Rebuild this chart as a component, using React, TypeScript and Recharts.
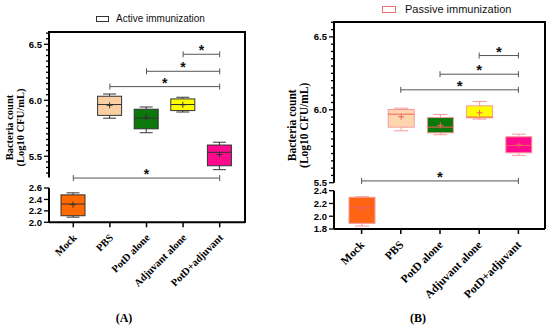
import React from 'react';
import { ComposedChart, Bar, XAxis, YAxis, ReferenceLine } from 'recharts';

const categories = ['Mock', 'PBS', 'PotD alone', 'Adjuvant alone', 'PotD+adjuvant'];

// Panel A (Active immunization)
const fillsA = ['#FF6A00', '#FAD0A2', '#0B780B', '#FFFF00', '#FF0A8C'];
const minA = [2.09, 5.84, 5.71, 5.895, 5.38];
const q1A = [2.115, 5.865, 5.745, 5.908, 5.415];
const medA = [2.32, 5.962, 5.84, 5.962, 5.535];
const q3A = [2.48, 6.036, 5.92, 6.012, 5.6];
const maxA = [2.515, 6.056, 5.94, 6.027, 5.625];
const meanA = [2.31, 5.955, 5.85, 5.96, 5.515];
const bracketFromA = ['Adjuvant alone', 'PotD alone', 'PBS', 'Mock'];
const bracketToA = ['PotD+adjuvant', 'PotD+adjuvant', 'PotD+adjuvant', 'PotD+adjuvant'];
const bracketYA = [6.411, 6.259, 6.122, 5.305];
const upperMajorA = [5.5, 6.0, 6.5];
const lowerTicksA = [2.0, 2.2, 2.4, 2.6];

// Panel B (Passive immunization)
const fillsB = ['#FF6414', '#FDD6AE', '#0B780B', '#FFFF00', '#FF0A8C'];
const minB = [1.847, 5.856, 5.829, 5.936, 5.687];
const q1B = [1.889, 5.881, 5.842, 5.945, 5.705];
const medB = [2.134, 5.97, 5.881, 5.95, 5.755];
const q3B = [2.297, 6.002, 5.947, 6.027, 5.815];
const maxB = [2.306, 6.011, 5.968, 6.057, 5.833];
const meanB = [2.12, 5.952, 5.893, 5.979, 5.76];
const bracketFromB = ['Adjuvant alone', 'PotD alone', 'PBS', 'Mock'];
const bracketToB = ['PotD+adjuvant', 'PotD+adjuvant', 'PotD+adjuvant', 'PotD+adjuvant'];
const bracketYB = [6.372, 6.244, 6.137, 5.512];
const upperMajorB = [5.5, 6.0, 6.5];
const lowerTicksB = [1.8, 2.0, 2.2, 2.4];

const SERIF = "'Liberation Serif', 'Times New Roman', serif";
const SANS = "'Liberation Sans', Arial, sans-serif";

function minorTicks(from: number, to: number) {
  const out: number[] = [];
  for (let v = Math.round(from * 100); v <= Math.round(to * 100) + 0.1; v += 5) out.push(v / 100);
  return out;
}

function buildRows(fills: string[], mn: number[], q1: number[], md: number[], q3: number[], mx: number[], mean: number[], useIdx: (i: number) => boolean) {
  return categories.map((name, i) => useIdx(i)
    ? { name, fill: fills[i], lo: mn[i], q1: q1[i], med: md[i], q3: q3[i], hi: mx[i], mean: mean[i] }
    : { name, fill: fills[i], lo: null, q1: null, med: null, q3: null, hi: null, mean: null });
}

const makeBox = (stroke: string, mark: string) => (props: any) => {
  const { x, y, width, height, payload } = props;
  if (!payload || payload.lo == null || !isFinite(y) || !isFinite(height)) return <g />;
  const top = Math.min(y, y + height);
  const bot = Math.max(y, y + height);
  const span = payload.hi - payload.lo;
  const py = (v: number) => bot - ((v - payload.lo) / span) * (bot - top);
  const cx = x + width / 2;
  const cap = width * 0.27;
  const m = py(payload.mean);
  return (
    <g>
      <line x1={cx} x2={cx} y1={py(payload.hi)} y2={py(payload.q3)} stroke={stroke} strokeWidth={1} />
      <line x1={cx} x2={cx} y1={py(payload.q1)} y2={py(payload.lo)} stroke={stroke} strokeWidth={1} />
      <line x1={cx - cap} x2={cx + cap} y1={py(payload.hi)} y2={py(payload.hi)} stroke={stroke} strokeWidth={1} />
      <line x1={cx - cap} x2={cx + cap} y1={py(payload.lo)} y2={py(payload.lo)} stroke={stroke} strokeWidth={1} />
      <rect x={x} y={py(payload.q3)} width={width} height={py(payload.q1) - py(payload.q3)} fill={payload.fill} stroke={stroke} strokeWidth={1} />
      <line x1={x} x2={x + width} y1={py(payload.med)} y2={py(payload.med)} stroke={mark} strokeWidth={1} />
      <line x1={cx - 3} x2={cx + 3} y1={m} y2={m} stroke={mark} strokeWidth={1} />
      <line x1={cx} x2={cx} y1={m - 3} y2={m + 3} stroke={mark} strokeWidth={1} />
    </g>
  );
};

const makeBracket = (starSize: number) => (props: any) => {
  const { x1, y1, x2 } = props;
  if (!isFinite(x1) || !isFinite(y1)) return <g />;
  return (
    <g>
      <line x1={x1} x2={x2} y1={y1} y2={y1} stroke="#555" strokeWidth={1} />
      <line x1={x1} x2={x1} y1={y1 - 3} y2={y1 + 3} stroke="#555" strokeWidth={1} />
      <line x1={x2} x2={x2} y1={y1 - 3} y2={y1 + 3} stroke="#555" strokeWidth={1} />
      <text x={(x1 + x2) / 2} y={y1 + 1} textAnchor="middle" fontFamily={SANS} fontWeight="bold" fontSize={starSize} fill="#111">*</text>
    </g>
  );
};

const makeYTick = (majors: number[], fontSize: number) => (props: any) => {
  const { x, y, payload } = props;
  const v = payload.value as number;
  const isMajor = majors.some((mm) => Math.abs(mm - v) < 1e-6);
  const len = isMajor ? 5 : 3;
  return (
    <g>
      <line x1={x - len} x2={x} y1={y} y2={y} stroke="#000" strokeWidth={1.3} />
      {isMajor && (
        <text x={x - len - 2} y={y} dy="0.36em" textAnchor="end" fontFamily={SANS} fontWeight="bold" fontSize={fontSize} fill="#000">
          {v.toFixed(1)}
        </text>
      )}
    </g>
  );
};

const makeXTick = (fontSize: number, dx: number, dy: number) => (props: any) => {
  const { x, y, payload } = props;
  const tx = x + dx;
  const ty = y + dy;
  return (
    <g>
      <line x1={x} x2={x} y1={y} y2={y + 5} stroke="#000" strokeWidth={1.5} />
      <text x={tx} y={ty} transform={`rotate(-45 ${tx} ${ty})`} textAnchor="end" fontFamily={SERIF} fontWeight="bold" fontSize={fontSize} fill="#000">
        {payload.value}
      </text>
    </g>
  );
};

type PanelCfg = {
  left: number;
  width: number;
  yWidth: number;
  rightMargin: number;
  pad: { left: number; right: number };
  barSize: number;
  upperTop: number;
  upperHeight: number;
  upperMarginTop: number;
  upperMarginBottom: number;
  upperDomain: [number, number];
  upperMajors: number[];
  lowerTop: number;
  lowerHeight: number;
  lowerMarginTop: number;
  lowerXHeight: number;
  lowerDomain: [number, number];
  lowerTicks: number[];
  tickFont: number;
  catFont: number;
  catDx: number;
  catDy: number;
  starSize: number;
  stroke: string;
  mark: string;
  upperRows: any[];
  lowerRows: any[];
  bFrom: string[];
  bTo: string[];
  bY: number[];
};

function Panel({ c }: { c: PanelCfg }) {
  const BoxShape = makeBox(c.stroke, c.mark);
  const BracketShape = makeBracket(c.starSize);
  const minors = minorTicks(Math.ceil(c.upperDomain[0] * 20) / 20, c.upperDomain[1]);
  return (
    <>
      <div style={{ position: 'absolute', left: c.left, top: c.lowerTop }}>
        <ComposedChart width={c.width} height={c.lowerHeight} data={c.lowerRows}
          margin={{ top: c.lowerMarginTop, right: c.rightMargin, bottom: 0, left: 0 }}>
          <XAxis dataKey="name" type="category" height={c.lowerXHeight} padding={c.pad} interval={0}
            tickSize={0} tickMargin={0} tickLine={false} axisLine={{ stroke: '#000', strokeWidth: 2 }}
            tick={makeXTick(c.catFont, c.catDx, c.catDy)} />
          <YAxis type="number" domain={c.lowerDomain} allowDataOverflow width={c.yWidth} ticks={c.lowerTicks} interval={0}
            tickSize={0} tickMargin={0} tickLine={false} axisLine={{ stroke: '#000', strokeWidth: 2 }}
            tick={makeYTick(c.lowerTicks, c.tickFont)} />
          <Bar dataKey={(d: any) => (d.lo == null ? null : [d.lo, d.hi])} barSize={c.barSize} isAnimationActive={false} shape={BoxShape} />
        </ComposedChart>
      </div>
      <div style={{ position: 'absolute', left: c.left, top: c.upperTop }}>
        <ComposedChart width={c.width} height={c.upperHeight} data={c.upperRows}
          margin={{ top: c.upperMarginTop, right: c.rightMargin, bottom: c.upperMarginBottom, left: 0 }}>
          <XAxis dataKey="name" type="category" hide height={0} padding={c.pad} />
          <YAxis type="number" domain={c.upperDomain} allowDataOverflow width={c.yWidth} ticks={minors} interval={0}
            tickSize={0} tickMargin={0} tickLine={false} axisLine={{ stroke: '#000', strokeWidth: 2 }}
            tick={makeYTick(c.upperMajors, c.tickFont)} />
          <Bar dataKey={(d: any) => (d.lo == null ? null : [d.lo, d.hi])} barSize={c.barSize} isAnimationActive={false} shape={BoxShape} />
          {c.bY.map((yv, i) => (
            <ReferenceLine key={i} ifOverflow="visible" segment={[{ x: c.bFrom[i], y: yv }, { x: c.bTo[i], y: yv }]} shape={BracketShape} />
          ))}
        </ComposedChart>
      </div>
    </>
  );
}

const panelA: PanelCfg = {
  left: 0, width: 250, yWidth: 49, rightMargin: 5, pad: { left: 6, right: 7 }, barSize: 24,
  upperTop: 0, upperHeight: 200, upperMarginTop: 32, upperMarginBottom: 22.5, upperDomain: [5.31, 6.61], upperMajors: upperMajorA,
  lowerTop: 180, lowerHeight: 150, lowerMarginTop: 8, lowerXHeight: 107.7, lowerDomain: [2.0, 2.6], lowerTicks: lowerTicksA,
  tickFont: 9.5, catFont: 10.5, catDx: 4, catDy: 16, starSize: 14, stroke: '#333', mark: '#333',
  upperRows: buildRows(fillsA, minA, q1A, medA, q3A, maxA, meanA, (i) => i > 0),
  lowerRows: buildRows(fillsA, minA, q1A, medA, q3A, maxA, meanA, (i) => i === 0),
  bFrom: bracketFromA, bTo: bracketToA, bY: bracketYA,
};

const panelB: PanelCfg = {
  left: 285, width: 265, yWidth: 49, rightMargin: 5, pad: { left: 8, right: 7 }, barSize: 26,
  upperTop: 0, upperHeight: 205, upperMarginTop: 22.3, upperMarginBottom: 22.3, upperDomain: [5.5, 6.6], upperMajors: upperMajorB,
  lowerTop: 185, lowerHeight: 145, lowerMarginTop: 5.7, lowerXHeight: 101, lowerDomain: [1.8, 2.4], lowerTicks: lowerTicksB,
  tickFont: 9.5, catFont: 11.5, catDx: 3.5, catDy: 16.5, starSize: 15, stroke: '#F59A9A', mark: '#F06060',
  upperRows: buildRows(fillsB, minB, q1B, medB, q3B, maxB, meanB, (i) => i > 0),
  lowerRows: buildRows(fillsB, minB, q1B, medB, q3B, maxB, meanB, (i) => i === 0),
  bFrom: bracketFromB, bTo: bracketToB, bY: bracketYB,
};

const yLabelStyle = (cx: number, cy: number, fs: number, lh: number): React.CSSProperties => ({
  position: 'absolute', left: cx - 60, top: cy - lh, width: 120, height: lh * 2, textAlign: 'center',
  transform: 'rotate(-90deg)', fontFamily: SERIF, fontWeight: 'bold', fontSize: fs, lineHeight: `${lh}px`, color: '#000', whiteSpace: 'nowrap',
});

export default function App() {
  return (
    <div style={{ position: 'absolute', left: 0, top: 0, width: 550, height: 330, background: '#fff', overflow: 'hidden' }}>
      {/* frames */}
      <div style={{ position: 'absolute', left: 48, top: 31, width: 198, height: 192, boxSizing: 'border-box', borderTop: '2px solid #000', borderRight: '2px solid #000' }} />
      <div style={{ position: 'absolute', left: 333, top: 21.3, width: 213, height: 208, boxSizing: 'border-box', borderTop: '2px solid #000', borderRight: '2px solid #000' }} />
      <Panel c={panelA} />
      <Panel c={panelB} />
      {/* legends */}
      <div style={{ position: 'absolute', left: 95.5, top: 15.5, width: 13, height: 6, boxSizing: 'border-box', border: '1px solid #333', background: '#fff' }} />
      <div style={{ position: 'absolute', left: 116, top: 12, fontFamily: SANS, fontSize: 10, lineHeight: '14px', color: '#111', whiteSpace: 'nowrap' }}>Active immunization</div>
      <div style={{ position: 'absolute', left: 382, top: 5.5, width: 14, height: 7, boxSizing: 'border-box', border: '1px solid #F07070', background: '#fff' }} />
      <div style={{ position: 'absolute', left: 405, top: 2, fontFamily: SANS, fontSize: 11, lineHeight: '14px', color: '#111', whiteSpace: 'nowrap' }}>Passive immunization</div>
      {/* y labels */}
      <div style={yLabelStyle(14.5, 127, 10.5, 10.5)}>Bacteria count<br />(Log10 CFU/mL)</div>
      <div style={yLabelStyle(298, 125, 11.5, 12.3)}>Bacteria count<br />(Log10 CFU/mL)</div>
      {/* panel captions */}
      <div style={{ position: 'absolute', left: 104, top: 310, width: 40, textAlign: 'center', fontFamily: SERIF, fontWeight: 'bold', fontSize: 12, lineHeight: '16px' }}>(A)</div>
      <div style={{ position: 'absolute', left: 398, top: 310, width: 40, textAlign: 'center', fontFamily: SERIF, fontWeight: 'bold', fontSize: 12, lineHeight: '16px' }}>(B)</div>
    </div>
  );
}
